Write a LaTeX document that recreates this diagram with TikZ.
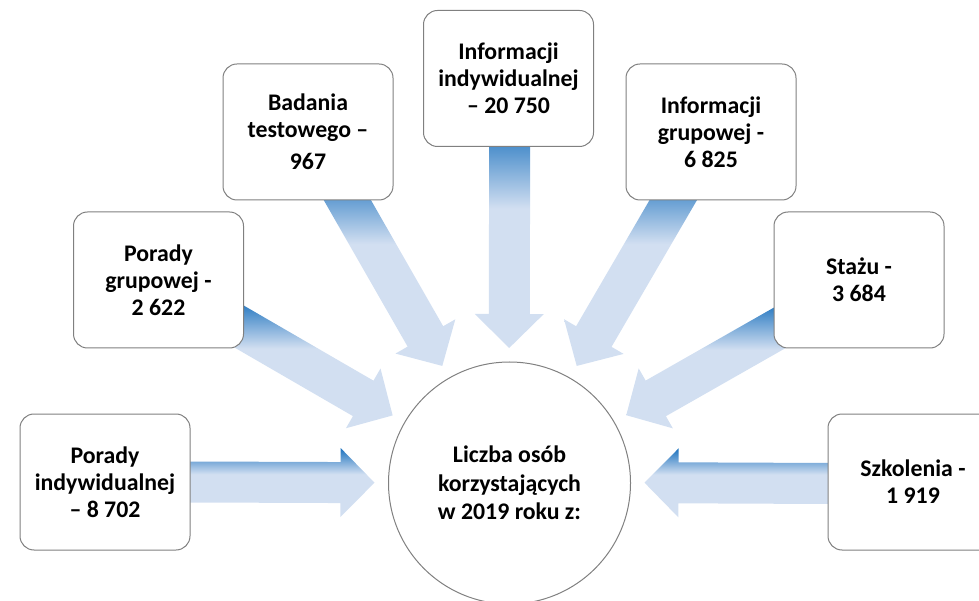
\documentclass[tikz,border=0pt]{standalone}
\usepackage{fontspec}
\setmainfont{Carlito}
\usetikzlibrary{calc}
\usetikzlibrary{backgrounds}
\definecolor{arrowdark}{RGB}{28,114,190}
\definecolor{arrowlight}{RGB}{210,223,241}
\definecolor{boxline}{RGB}{128,128,128}
\pgfdeclareverticalshading{arrowfade}{100bp}{color(0bp)=(arrowlight); color(25bp)=(arrowlight); color(56bp)=(arrowlight); color(75bp)=(arrowdark); color(100bp)=(arrowdark)}

\begin{document}
\begin{tikzpicture}[x=1pt, y=1pt,
        box/.style={draw=boxline, line width=1pt, fill=white, rounded corners=14pt,
            minimum width=170pt, minimum height=136pt, align=center,
            font=\fontsize{23.8}{27}\selectfont\bfseries},
        hubnode/.style={circle, draw=boxline, line width=1pt, fill=white,
            minimum size=242pt, inner sep=0pt, align=center,
            font=\fontsize{23.8}{28.5}\selectfont\bfseries},
        fade/.style={shading=arrowfade}]
        \useasboundingbox (0,0) rectangle (979,600);
        \clip (0,0) rectangle (979,600);
        % Central circle
        \node[hubnode] (hub) at (509.5,117) {Liczba osób\\korzystających\\w 2019 roku z:};
        % Boxes around it
        \foreach \nm/\pos/\txt in {
            pi/{105,118}/{Porady\\indywidualnej\\– 8 702},
            pg/{158.5,320}/{Porady\\grupowej -\\2 622},
            bt/{308,468}/{Badania\\testowego –\\[5pt]967},
            ii/{508.5,521.5}/{Informacji\\indywidualnej\\– 20 750},
            ig/{711,468}/{Informacji\\grupowej -\\6 825},
            st/{859,320}/{Stażu -\\3 684},
            sz/{913,118}/{Szkolenia -\\1 919}} {
            \node[box] (\nm) at (\pos) {\txt};
        }
        % Block arrows from each box to the circle
        \begin{scope}[on background layer]
            \foreach \nm in {pi,pg,bt,ii,ig,st,sz} {
                \path let \p1=($(hub.center)-(\nm.center)$), \n1={atan2(\y1,\x1)} in
                    coordinate (tl) at (\nm.\n1);
                \coordinate (tp) at ($(hub.center)!135pt!(\nm.center)$);
                \coordinate (sb) at ($(tl)!-24pt!(tp)$);
                \coordinate (hb) at ($(tp)!34pt!(tl)$);
                \shade[fade] ($(sb)!20.5pt!90:(tp)$) -- ($(hb)!20.5pt!90:(tp)$)
                    -- ($(hb)!34.5pt!90:(tp)$) -- (tp) -- ($(hb)!34.5pt!-90:(tp)$)
                    -- ($(hb)!20.5pt!-90:(tp)$) -- ($(sb)!20.5pt!-90:(tp)$) -- cycle;
            }
        \end{scope}
\end{tikzpicture}
\end{document}
